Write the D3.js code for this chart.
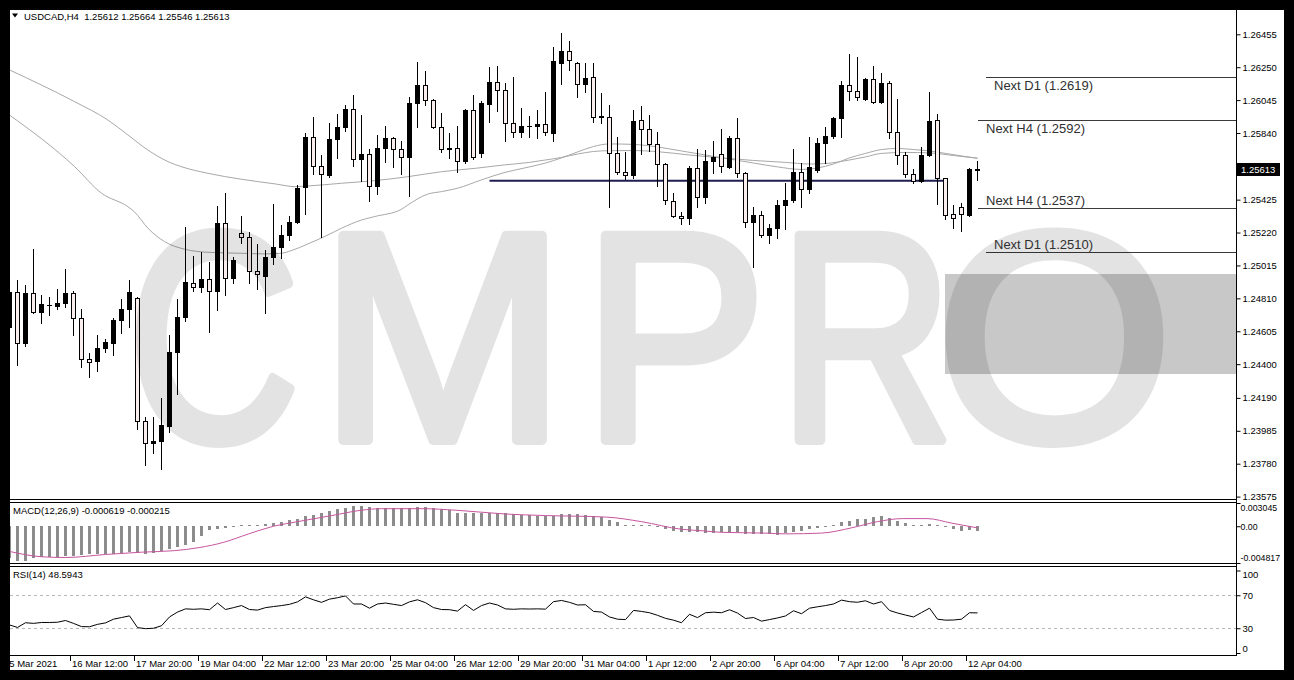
<!DOCTYPE html>
<html><head><meta charset="utf-8">
<script src="https://cdn.jsdelivr.net/npm/d3@7/dist/d3.min.js"></script>
<style>html,body{margin:0;padding:0;background:#000;overflow:hidden}</style>
</head><body>
<script>
// ---------- DATA ----------
const symbol = "USDCAD,H4";
const open = [1.24634,1.24852,1.24534,1.24846,1.24728,1.24769,1.24765,1.24779,1.24846,1.24686,
1.24431,1.24422,1.24499,1.24530,1.24676,1.24746,1.24811,1.24047,1.23908,1.23924,
1.24015,1.24474,1.24692,1.24908,1.24883,1.24929,1.24858,1.25278,1.24935,1.25215,
1.25190,1.24983,1.24950,1.25066,1.25132,1.25205,1.25288,1.25502,1.25813,1.25635,
1.25579,1.25801,1.25880,1.25988,1.25676,1.25707,1.25510,1.25745,1.25807,1.25739,
1.25689,1.26025,1.26139,1.26046,1.25876,1.25745,1.25745,1.25668,1.25984,1.25718,
1.26021,1.26160,1.26108,1.25900,1.25849,1.25886,1.25884,1.25894,1.25842,1.26278,
1.26351,1.26278,1.26143,1.26187,1.25938,1.25938,1.25718,1.25599,1.25579,1.25921,
1.25863,1.25772,1.25647,1.25417,1.25323,1.25309,1.25620,1.25440,1.25666,1.25707,
1.25631,1.25807,1.25593,1.25284,1.25330,1.25205,1.25247,1.25392,1.25423,1.25599,
1.25489,1.25610,1.25776,1.25822,1.25932,1.26139,1.26104,1.26054,1.26175,1.26035,
1.26150,1.25849,1.25703,1.25585,1.25543,1.25703,1.25921,1.25558,1.25336,1.25377,
1.25330,1.25612];
const high = [1.24867,1.24925,1.24894,1.25116,1.24831,1.24817,1.24867,1.24991,1.24858,1.24742,
1.24468,1.24582,1.24555,1.24686,1.24804,1.24925,1.24821,1.24074,1.24074,1.24188,
1.24582,1.24804,1.25253,1.25074,1.25101,1.25039,1.25386,1.25464,1.25070,1.25323,
1.25226,1.25149,1.25112,1.25398,1.25267,1.25323,1.25516,1.25838,1.25938,1.25703,
1.25900,1.25959,1.26015,1.26077,1.25952,1.25739,1.25828,1.25884,1.25817,1.25793,
1.26067,1.26285,1.26228,1.26050,1.25963,1.25838,1.25884,1.25988,1.26077,1.26042,
1.26253,1.26258,1.26150,1.26187,1.25994,1.25946,1.25984,1.26098,1.26378,1.26465,
1.26415,1.26285,1.26274,1.26274,1.26091,1.26015,1.25813,1.25724,1.25984,1.26008,
1.25952,1.25849,1.25655,1.25469,1.25350,1.25635,1.25739,1.25734,1.25793,1.25863,
1.25822,1.25932,1.25599,1.25381,1.25357,1.25274,1.25423,1.25531,1.25739,1.25655,
1.25817,1.25807,1.25876,1.25942,1.26166,1.26332,1.26316,1.26181,1.26258,1.26212,
1.26166,1.26050,1.25724,1.25614,1.25755,1.26098,1.25959,1.25558,1.25392,1.25406,
1.25620,1.25664];
const low = [1.24624,1.24395,1.24514,1.24721,1.24659,1.24707,1.24742,1.24759,1.24582,1.24385,
1.24319,1.24360,1.24478,1.24460,1.24597,1.24634,1.23995,1.23773,1.23849,1.23746,
1.23980,1.24215,1.24671,1.24858,1.24852,1.24603,1.24738,1.24831,1.24904,1.25153,
1.24908,1.24867,1.24721,1.25024,1.25060,1.25174,1.25282,1.25336,1.25585,1.25195,
1.25564,1.25682,1.25855,1.25635,1.25543,1.25419,1.25460,1.25662,1.25626,1.25585,
1.25448,1.25876,1.26015,1.25869,1.25724,1.25682,1.25599,1.25651,1.25676,1.25689,
1.25911,1.25979,1.25793,1.25813,1.25813,1.25817,1.25807,1.25828,1.25793,1.26145,
1.26233,1.26067,1.26098,1.25911,1.25900,1.25381,1.25585,1.25552,1.25558,1.25709,
1.25730,1.25510,1.25398,1.25315,1.25274,1.25274,1.25381,1.25406,1.25593,1.25599,
1.25620,1.25564,1.25257,1.25008,1.25190,1.25157,1.25184,1.25240,1.25413,1.25377,
1.25469,1.25599,1.25655,1.25807,1.25813,1.26046,1.26046,1.26046,1.26025,1.26029,
1.25807,1.25647,1.25568,1.25531,1.25537,1.25697,1.25398,1.25303,1.25247,1.25232,
1.25323,1.25546];
const close = [1.24852,1.24530,1.24846,1.24728,1.24773,1.24767,1.24779,1.24846,1.24686,1.24431,
1.24416,1.24499,1.24539,1.24676,1.24742,1.24852,1.24047,1.23908,1.23924,1.24022,
1.24474,1.24692,1.24914,1.24883,1.24929,1.24858,1.25278,1.24935,1.25049,1.25190,
1.24983,1.24962,1.25066,1.25132,1.25205,1.25288,1.25500,1.25813,1.25635,1.25585,
1.25801,1.25880,1.25988,1.25676,1.25707,1.25510,1.25745,1.25807,1.25739,1.25689,
1.26025,1.26139,1.26046,1.25876,1.25739,1.25743,1.25668,1.25984,1.25689,1.26025,
1.26160,1.26108,1.25900,1.25849,1.25884,1.25884,1.25894,1.25849,1.26289,1.26351,
1.26295,1.26143,1.26181,1.25938,1.25944,1.25718,1.25599,1.25579,1.25917,1.25863,
1.25772,1.25647,1.25423,1.25323,1.25309,1.25624,1.25440,1.25666,1.25693,1.25635,
1.25807,1.25593,1.25288,1.25330,1.25205,1.25247,1.25392,1.25423,1.25599,1.25489,
1.25631,1.25780,1.25822,1.25932,1.26139,1.26104,1.26062,1.26175,1.26035,1.26154,
1.25849,1.25703,1.25585,1.25543,1.25703,1.25915,1.25558,1.25330,1.25309,1.25336,
1.25614,1.25613];

// moving averages: [bar index, price]
const maSlow = [[0,1.26233],[8.15,1.26035],[12.3,1.25921],[14.8,1.25828],[17.3,1.25734],[19.8,1.25662],
[21.5,1.25630],[24.8,1.25589],[29,1.25552],[33.2,1.25523],[35.7,1.25506],[37.3,1.25510],[41.5,1.25527],
[45.6,1.25543],[49.8,1.25568],[54,1.25599],[58.2,1.25620],[61.8,1.25641],[65,1.25657],[67,1.25672],
[69,1.25688],[71,1.25709],[73,1.25725],[75,1.25730],[78,1.25731],[81,1.25724],[85,1.25703],[89,1.25685],
[93,1.25669],[97,1.25657],[100,1.25647],[102,1.25650],[105,1.25672],[107,1.25691],[109,1.25713],
[112,1.25719],[115,1.25716],[118,1.25700],[121,1.25683]];
const maFast = [[0,1.25952],[8.15,1.25630],[11.5,1.25465],[14.8,1.25381],[15.6,1.25350],[17.3,1.25247],
[19.4,1.25163],[21.9,1.25116],[24.8,1.25097],[29,1.25091],[31.9,1.25087],[34,1.25091],[35.2,1.25107],
[37.3,1.25149],[39.8,1.25205],[41.5,1.25247],[44,1.25298],[45.6,1.25319],[49,1.25365],[49.8,1.25392],
[52.3,1.25460],[54,1.25475],[56,1.25496],[59,1.25548],[61.8,1.25593],[65,1.25629],[67,1.25653],
[69,1.25685],[71,1.25722],[73,1.25756],[75,1.25772],[78,1.25769],[81,1.25753],[84,1.25728],[87,1.25703],
[90,1.25678],[93,1.25653],[96,1.25629],[99,1.25613],[101,1.25622],[103,1.25647],[105,1.25685],
[107,1.25713],[109,1.25737],[111,1.25744],[113,1.25737],[115,1.25728],[117,1.25713],[119,1.25697],[121,1.25683]];

const macdMain = [-0.0042,-0.0045,-0.0045,-0.0041,-0.0040,-0.0040,-0.0040,-0.0039,-0.0039,-0.0038,
-0.0037,-0.0037,-0.0036,-0.0036,-0.0035,-0.0034,-0.0035,-0.0036,-0.0035,-0.0033,
-0.0030,-0.0027,-0.0024,-0.0020,-0.0013,-0.0005,-0.0003,-0.0002,-0.0001,0.0001,
0.0001,0.0002,0.0003,0.0004,0.0006,0.0008,0.0010,0.0013,0.0015,0.0018,
0.0020,0.0022,0.0024,0.0026,0.0026,0.0025,0.0024,0.0024,0.0024,0.0024,
0.0024,0.0025,0.0025,0.0024,0.0023,0.0021,0.0018,0.0018,0.0017,0.0017,
0.0018,0.0018,0.0017,0.0016,0.0015,0.0015,0.0014,0.0013,0.0014,0.0016,
0.0016,0.0016,0.0015,0.0014,0.0012,0.0008,0.0005,0.0002,0.0002,0.0001,
0.0001,-0.0001,-0.0004,-0.0006,-0.0008,-0.0008,-0.0008,-0.0009,-0.0009,-0.0008,
-0.0008,-0.0008,-0.0010,-0.0010,-0.0010,-0.0010,-0.0011,-0.0009,-0.0007,-0.0006,
-0.0004,-0.0002,-0.0001,0.0002,0.0005,0.0007,0.0009,0.0010,0.0012,0.0013,
0.0011,0.0007,0.0004,0.0002,0.0002,0.0003,0.0002,-0.0001,-0.0004,-0.0006,
-0.0005,-0.000619];
const macdSignal = [[0,-0.0033],[4,-0.0040],[7,-0.0041],[12,-0.0037],[16.5,-0.0034],[20.6,-0.0032],
[23.7,-0.0028],[26.8,-0.0021],[29.9,-0.0010],[33,0.0000],[36,0.0006],[40.3,0.0014],[44,0.0021],
[46.5,0.0023],[51.7,0.0023],[55.8,0.0021],[62,0.0016],[67,0.0014],[74.6,0.0012],[79,0.0006],
[84,-0.0004],[86.7,-0.0006],[89,-0.0008],[94.5,-0.0009],[97,-0.0010],[101.5,-0.0009],[105.3,-0.0002],
[108.5,0.0006],[111.6,0.0010],[114.7,0.0010],[117.8,0.0004],[121,-0.000215]];

const rsi = [34,31,36.7,35.9,37,37,37.3,39.4,35.9,32,
31.8,34.7,36.5,41,43,45,30.8,29.5,30,33,
43.7,49.6,53.5,53,53.5,52.5,60.6,52.7,55,57.5,
52.7,52,55,56.3,57.5,59,62,68,64.5,61.4,
65.3,67,69.2,59.4,59.4,54.3,59.4,60.6,59,57.5,
62,64.5,61,55,52.7,52.5,50.8,58.6,51.6,57.5,
60.6,58.2,53.5,53,53.5,53.3,53.5,53.2,62.2,63.7,
61.4,58.2,58.5,50.4,49.6,43.7,41,40.5,51.6,50.4,
48.8,45.7,42,39.8,36.7,46.9,42.9,48.8,49.5,48.8,
52.4,48.4,41.8,43,38.6,40.5,42.5,44.9,51.2,47.6,
54.3,56,57.5,59.4,64.1,62.2,61.5,63.3,59.4,62.2,
51.6,48.5,46,43.7,49,54.3,41,39.8,40,41,
48.8,48.5943];

const priceTicks = [1.26455,1.26250,1.26045,1.25840,1.25425,1.25220,1.25015,1.24810,1.24605,1.24400,1.24190,1.23985,1.23780,1.23575];
const macdTicks = [0.003045, 0, -0.004817];
const macdTickText = ["0.003045","0.00","-0.004817"];
const rsiTicks = [100,70,30,0];
const timeLabels = ["15 Mar 2021","16 Mar 12:00","17 Mar 20:00","19 Mar 04:00","22 Mar 12:00","23 Mar 20:00",
"25 Mar 04:00","26 Mar 12:00","29 Mar 20:00","31 Mar 04:00","1 Apr 12:00","2 Apr 20:00","6 Apr 04:00",
"7 Apr 12:00","8 Apr 20:00","12 Apr 04:00"];
const timeLabelBars = [0,8,16,24,32,40,48,56,64,72,80,88,96,104,112,120];

const levelNames = ["Next D1","Next H4","Next H4","Next D1"];
const levelPrices = [1.2619,1.2592,1.2537,1.2510];
const levelStartBars = [122,121,121,122];
const supportPrice = 1.25543;
const supportBars = [60,117.2];
const zonePrices = [1.24962,1.24337];
const zoneStartBar = 116.9;

// ---------- DRAW ----------
const W=1294,H=680, AX=1236;
const FONT='"Liberation Sans", Arial, sans-serif';
const FS=9.5;
const svg=d3.select('body').append('svg').attr('width',W).attr('height',H)
  .style('display','block').attr('font-family',FONT);
svg.append('rect').attr('width',W).attr('height',H).attr('fill','#000');
svg.append('rect').attr('x',10).attr('y',10).attr('width',1274).attr('height',660).attr('fill','#fff');

const xS=d3.scaleLinear().domain([0,121]).range([9.5,977.5]);
const yP=d3.scaleLinear().domain([1.23575,1.26455]).range([496.6,34.3]);
const yM=d3.scaleLinear().domain([-0.004817,0.003045]).range([563,503]);
const yR=d3.scaleLinear().domain([0,100]).range([653,570.5]);

const defs=svg.append('defs');
function clip(id,y0,y1){defs.append('clipPath').attr('id',id).append('rect').attr('x',10).attr('y',y0).attr('width',AX-10).attr('height',y1-y0);}
clip('cMain',10,499);clip('cMacd',503,563);clip('cRsi',567,655);

const gMain=svg.append('g').attr('clip-path','url(#cMain)');
// zone rectangle
gMain.append('rect').attr('x',Math.round(xS(zoneStartBar))).attr('y',Math.round(yP(zonePrices[0])))
  .attr('width',AX-Math.round(xS(zoneStartBar))).attr('height',Math.round(yP(zonePrices[1]))-Math.round(yP(zonePrices[0])))
  .attr('fill','#c8c8c8');
// watermark
const wm=svg.append('g').attr('opacity',0.105).attr('fill','#000').attr('stroke','#000').attr('stroke-width',10).attr('stroke-linejoin','round');
const wmLetters=[["C",128.1,171.5],["M",319,247.2],["P",582.8,183.6],["R",778.9,174.4],["O",936.4,236.3]];
wmLetters.forEach(l=>{wm.append('text').attr('x',l[1]).attr('y',440).attr('font-size',297).attr('textLength',l[2])
  .attr('lengthAdjust','spacingAndGlyphs').text(l[0]);});

// MA lines
const maLine=d3.line().x(d=>xS(d[0])).y(d=>yP(d[1])).curve(d3.curveMonotoneX);
gMain.append('path').attr('d',maLine(maSlow)).attr('fill','none').attr('stroke','#a8a8a8').attr('stroke-width',1);
gMain.append('path').attr('d',maLine(maFast)).attr('fill','none').attr('stroke','#a8a8a8').attr('stroke-width',1);

// support line
gMain.append('line').attr('x1',xS(supportBars[0])).attr('x2',xS(supportBars[1]))
  .attr('y1',yP(supportPrice)).attr('y2',yP(supportPrice)).attr('stroke','#1e1e50').attr('stroke-width',2);

// candles
const gC=gMain.append('g');
open.forEach((o,i)=>{
  const c=close[i],h=high[i],l=low[i],cx=xS(i);
  const bull=c>=o;
  gC.append('line').attr('x1',cx).attr('x2',cx).attr('y1',Math.round(yP(h))).attr('y2',Math.round(yP(l))+1).attr('stroke','#000');
  const t=Math.round(yP(Math.max(o,c))),b=Math.round(yP(Math.min(o,c)));
  if(b-t>=1){
    gC.append('rect').attr('x',cx-2).attr('y',t+0.5).attr('width',4).attr('height',b-t)
      .attr('fill',bull?'#000':'#fbeeee').attr('stroke','#000').attr('stroke-width',1);
  } else {
    gC.append('line').attr('x1',cx-2.5).attr('x2',cx+2.5).attr('y1',t+0.5).attr('y2',t+0.5).attr('stroke','#000');
  }
});

// level lines + labels
levelPrices.forEach((p,i)=>{
  const y=Math.round(yP(p))+0.5, x0=Math.round(xS(levelStartBars[i]));
  gMain.append('line').attr('x1',x0).attr('x2',AX).attr('y1',y).attr('y2',y).attr('stroke','#3a3a3a').attr('stroke-width',1);
  const above = p < close[close.length-1];
  svg.append('text').attr('x',x0+8).attr('y',above? y-4 : y+12.5).attr('font-size',13).attr('fill','#303030')
    .text(`${levelNames[i]} (${p.toFixed(4)})`);
});

// panel borders
const bc='#000';
function hline(y){svg.append('line').attr('x1',10).attr('x2',AX).attr('y1',y).attr('y2',y).attr('stroke',bc);}
hline(499.5);hline(502.5);hline(563.5);hline(566.5);hline(655.5);
svg.append('line').attr('x1',AX+0.5).attr('x2',AX+0.5).attr('y1',10).attr('y2',656).attr('stroke',bc);

// price axis
const pa=svg.append('g').attr('transform',`translate(${AX+0.5},0)`).call(d3.axisRight(yP).tickValues(priceTicks).tickSize(4).tickPadding(2).tickFormat(d3.format('.5f')));
pa.select('.domain').remove();
pa.selectAll('text').attr('font-size',FS).attr('font-family',FONT).attr('fill','#000');
pa.selectAll('line').attr('stroke','#000');
// current price box
const lp=close[close.length-1], ly=Math.round(yP(lp));
svg.append('rect').attr('x',AX+1).attr('y',ly-6).attr('width',43).attr('height',13).attr('fill','#000');
svg.append('text').attr('x',AX+5).attr('y',ly+4).attr('font-size',FS).attr('fill','#fff').text(lp.toFixed(5));

// header
svg.append('path').attr('d','M12,13.5 L18,13.5 L15,17.5 Z').attr('fill','#000');
svg.append('text').attr('x',24).attr('y',19.5).attr('font-size',FS).attr('fill','#000').style('white-space','pre')
  .text(`${symbol}  ${open[121].toFixed(5)} ${high[121].toFixed(5)} ${low[121].toFixed(5)} ${close[121].toFixed(5)}`);

// MACD
const gM=svg.append('g').attr('clip-path','url(#cMacd)');
macdMain.forEach((v,i)=>{
  const cx=xS(i), y0=Math.round(yM(0)), y1=Math.round(yM(v));
  gM.append('rect').attr('x',cx-1.5).attr('width',3).attr('y',Math.min(y0,y1)).attr('height',Math.max(1,Math.abs(y1-y0))).attr('fill','#8c8c8c');
});
gM.append('path').attr('d',d3.line().x(d=>xS(d[0])).y(d=>yM(d[1])).curve(d3.curveMonotoneX)(macdSignal))
  .attr('fill','none').attr('stroke','#c8559f').attr('stroke-width',1);
svg.append('text').attr('x',13).attr('y',513.5).attr('font-size',FS).attr('fill','#000')
  .text(`MACD(12,26,9) ${macdMain[121].toFixed(6)} ${macdSignal[macdSignal.length-1][1].toFixed(6)}`);
const ma=svg.append('g').attr('transform',`translate(${AX+0.5},0)`).call(d3.axisRight(yM).tickValues(macdTicks).tickSize(4).tickPadding(0).tickFormat((d,i)=>macdTickText[i]));
ma.select('.domain').remove();
ma.selectAll('text').attr('font-size',8.8).attr('font-family',FONT).attr('fill','#000')
  .attr('dy',(d,i)=>i===0?'0.9em':(i===2?'-0.25em':'0.32em'));
ma.selectAll('line').attr('stroke','#000');

// RSI
const gR=svg.append('g').attr('clip-path','url(#cRsi)');
[70,30].forEach(v=>{gR.append('line').attr('x1',10).attr('x2',AX).attr('y1',Math.round(yR(v))+0.5).attr('y2',Math.round(yR(v))+0.5)
  .attr('stroke','#b8b8b8').attr('stroke-dasharray','3,3');});
gR.append('path').attr('d',d3.line().x((d,i)=>xS(i)).y(d=>yR(d))(rsi)).attr('fill','none').attr('stroke','#000').attr('stroke-width',1);
svg.append('text').attr('x',13).attr('y',577.5).attr('font-size',FS).attr('fill','#000').text(`RSI(14) ${rsi[121].toFixed(4)}`);
const ra=svg.append('g').attr('transform',`translate(${AX+0.5},0)`).call(d3.axisRight(yR).tickValues(rsiTicks).tickSize(4).tickPadding(2).tickFormat(d3.format('d')));
ra.select('.domain').remove();
ra.selectAll('text').attr('font-size',FS).attr('font-family',FONT).attr('fill','#000')
  .attr('dy',(d)=>d===100?'0.7em':(d===0?'-0.15em':'0.32em'));
ra.selectAll('line').attr('stroke','#000');

// time axis
timeLabels.forEach((t,i)=>{
  const x=xS(timeLabelBars[i]);
  if(i>0) svg.append('line').attr('x1',Math.round(x)-3.5).attr('x2',Math.round(x)-3.5).attr('y1',656).attr('y2',661).attr('stroke','#000');
  svg.append('text').attr('x',i===0? x-5.5 : x-1.5).attr('y',667).attr('font-size',FS).attr('fill','#000').text(t);
});

// outer frame
svg.append('path').attr('fill','#000').attr('fill-rule','evenodd')
  .attr('d',`M0,0H${W}V${H}H0Z M10,10V670H1284V10Z`);
</script>
</body></html>
